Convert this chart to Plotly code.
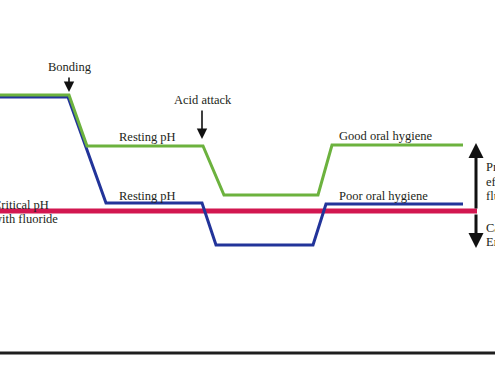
import plotly.graph_objects as go

# Data (x = time position, y = vertical position, top-down)
good_x = [0, 69, 87, 203, 224, 318, 332, 463]
good_y = [95, 95, 146, 146, 195, 195, 145, 145]
poor_x = [0, 68, 106, 202, 216, 313, 326, 463]
poor_y = [97, 97, 203, 203, 245, 245, 204, 204]
crit_x = [0, 477]
crit_y = [211, 211]
base_x = [0, 495]
base_y = [353, 353]

labels = ["Bonding", "Acid attack", "Resting pH", "Resting pH",
          "Good oral hygiene", "Poor oral hygiene"]
label_x = [70, 203, 147, 147, 385, 383]
label_y = [67, 100, 137, 196, 136, 196]

W, H = 495, 368
TXT = "#231f20"
FONT = dict(family="Liberation Serif, Times New Roman, serif", size=12.5, color=TXT)

fig = go.Figure()
fig.add_trace(go.Scatter(x=base_x, y=base_y, mode="lines",
                         line=dict(color="#1e1e1e", width=3), hoverinfo="skip"))
fig.add_trace(go.Scatter(x=crit_x, y=crit_y, mode="lines",
                         line=dict(color="#d21750", width=5), hoverinfo="skip"))
fig.add_trace(go.Scatter(x=poor_x, y=poor_y, mode="lines",
                         line=dict(color="#22349a", width=3), hoverinfo="skip"))
fig.add_trace(go.Scatter(x=good_x, y=good_y, mode="lines",
                         line=dict(color="#6cb23e", width=3), hoverinfo="skip"))

ann = []
for t, x, y in zip(labels, label_x, label_y):
    ann.append(dict(x=x, y=y, text=t, showarrow=False, xref="x", yref="y",
                    xanchor="center", yanchor="middle", font=FONT))

# left label (cut off by the figure edge, as in the reference)
for t, y in [("Critical pH", 205), ("with fluoride", 219)]:
    ann.append(dict(x=-9 / W, y=y, text=t, showarrow=False, xref="paper", yref="y",
                    xanchor="left", yanchor="middle", font=FONT))
# right labels (cut off by the figure edge, as in the reference)
for t, y in [("Protective", 167), ("effect of", 182), ("fluoride", 196),
             ("Caries", 228), ("Erosion", 242)]:
    ann.append(dict(x=484, y=y, text=t, showarrow=False, xref="x", yref="y",
                    xanchor="left", yanchor="middle", font=FONT))

# event arrows
for x, y0, y1 in [(69, 76, 92), (202, 109, 139)]:
    ann.append(dict(x=x, y=y1, ax=x, ay=y0, xref="x", yref="y", axref="x", ayref="y",
                    text="", showarrow=True, arrowhead=2, arrowsize=1.3,
                    arrowwidth=1.6, arrowcolor="#111"))
# big vertical arrows
ann.append(dict(x=476, y=143, ax=476, ay=210, xref="x", yref="y", axref="x", ayref="y",
                text="", showarrow=True, arrowhead=2, arrowsize=1.0,
                arrowwidth=3, arrowcolor="#111"))
ann.append(dict(x=476, y=248, ax=476, ay=213, xref="x", yref="y", axref="x", ayref="y",
                text="", showarrow=True, arrowhead=2, arrowsize=1.0,
                arrowwidth=3, arrowcolor="#111"))

fig.update_layout(
    width=W, height=H, margin=dict(l=0, r=0, t=0, b=0),
    paper_bgcolor="white", plot_bgcolor="white", showlegend=False,
    annotations=ann,
    xaxis=dict(range=[0, W], visible=False, fixedrange=True),
    yaxis=dict(range=[H, 0], visible=False, fixedrange=True),
)
fig.write_html("out.html", config={"displayModeBar": False},
               post_script="document.body.style.margin='0';document.body.style.overflow='hidden';")
